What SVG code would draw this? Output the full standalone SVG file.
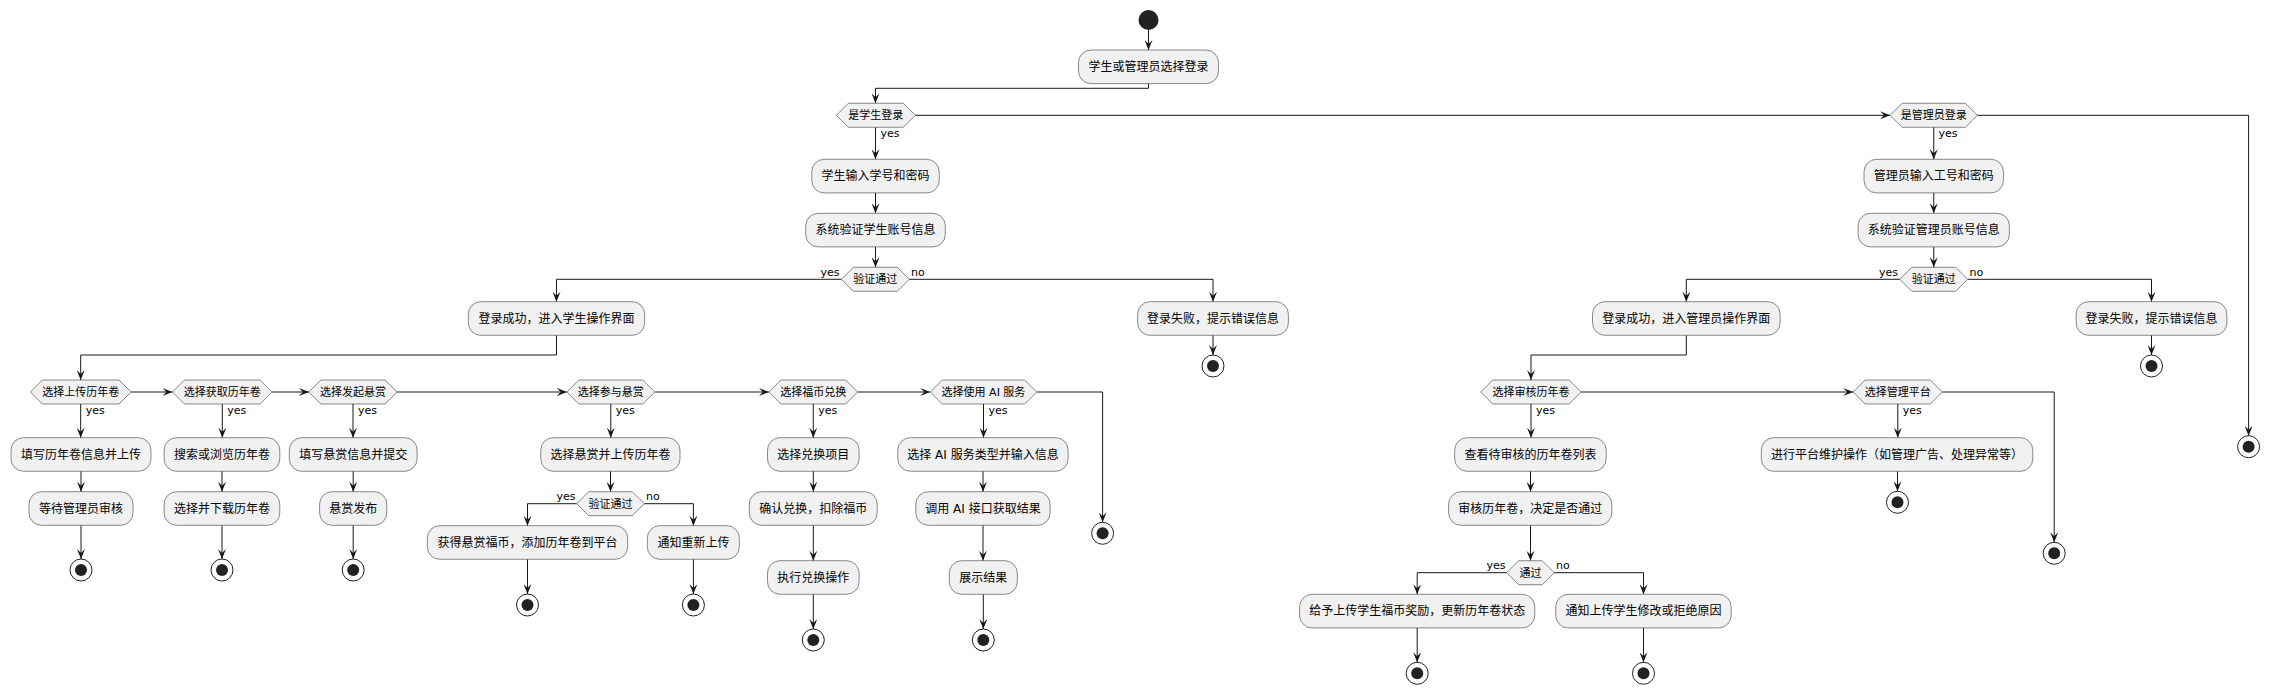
<svg xmlns="http://www.w3.org/2000/svg" width="2273" height="695" viewBox="0 0 2273 695">
<style>
.box{fill:#F1F1F1;stroke:#181818;stroke-width:0.5}
.dia{fill:#F1F1F1;stroke:#181818;stroke-width:0.5}
.bt{font-family:"DejaVu Sans","Noto Sans CJK SC",sans-serif;font-size:12px;fill:#000;text-anchor:middle}
.dt{font-family:"DejaVu Sans","Noto Sans CJK SC",sans-serif;font-size:11px;fill:#000;text-anchor:middle}
.lb{font-family:"DejaVu Sans","Noto Sans CJK SC",sans-serif;font-size:11px;fill:#000}
.le{text-anchor:end}
.ln{fill:none;stroke:#181818;stroke-width:1;marker-end:url(#ah)}
.so{fill:none;stroke:#222222;stroke-width:1}
.si{fill:#222222}
</style>
<defs>
<marker id="ah" viewBox="0 0 10 8" refX="10" refY="4" markerWidth="10" markerHeight="8" markerUnits="userSpaceOnUse" orient="auto">
<path d="M0,0 L10,4 L0,8 L4,4 Z" fill="#181818"/>
</marker>
</defs>
<rect width="2273" height="695" fill="#FFFFFF"/>
<g id="connectors">
<path class="ln" d="M1148.5,30 V50"/>
<path class="ln" d="M1148.5,83.6 V88.3 H875.5 V103.3"/>
<path class="ln" d="M875.5,127.3 V159.3"/>
<path class="ln" d="M875.5,192.9 V213.3"/>
<path class="ln" d="M875.5,246.9 V267.3"/>
<path class="ln" d="M841.4,279.3 H556.5 V301.7"/>
<path class="ln" d="M909.3,279.3 H1213 V301.7"/>
<path class="ln" d="M1213,335.3 V355"/>
<path class="ln" d="M915.3,115.3 H1890.1"/>
<path class="ln" d="M1933.75,127.3 V159.3"/>
<path class="ln" d="M1933.75,192.9 V213.3"/>
<path class="ln" d="M1933.75,246.9 V267.3"/>
<path class="ln" d="M1899.8,279.3 H1686.3 V301.7"/>
<path class="ln" d="M1967.7,279.3 H2151.5 V301.7"/>
<path class="ln" d="M2151.5,335.3 V355"/>
<path class="ln" d="M1977.4,115.3 H2248.6 V435.7"/>
<path class="ln" d="M556.5,335.3 V355 H80.7 V380"/>
<path class="ln" d="M131,392 H172.5"/>
<path class="ln" d="M272.1,392 H308.9"/>
<path class="ln" d="M397.1,392 H566.8"/>
<path class="ln" d="M654.8,392 H768.9"/>
<path class="ln" d="M857.6,392 H930.3"/>
<path class="ln" d="M1036.7,392 H1102.6 V522.3"/>
<path class="ln" d="M80.7,404 V437.7"/>
<path class="ln" d="M81,471.3 V491.7"/>
<path class="ln" d="M81,525.3 V559"/>
<path class="ln" d="M222.3,404 V437.7"/>
<path class="ln" d="M222,471.3 V491.7"/>
<path class="ln" d="M222,525.3 V559"/>
<path class="ln" d="M353,404 V437.7"/>
<path class="ln" d="M353.2,471.3 V491.7"/>
<path class="ln" d="M353.2,525.3 V559"/>
<path class="ln" d="M610.8,404 V437.7"/>
<path class="ln" d="M610.5,471.3 V491.7"/>
<path class="ln" d="M576.7,503.7 H527.5 V525.7"/>
<path class="ln" d="M527.5,559.3 V594"/>
<path class="ln" d="M644.3,503.7 H693.4 V525.7"/>
<path class="ln" d="M693.4,559.3 V594"/>
<path class="ln" d="M813.25,404 V437.7"/>
<path class="ln" d="M813.3,471.3 V491.7"/>
<path class="ln" d="M813.3,525.3 V560.7"/>
<path class="ln" d="M813.3,594.3 V629"/>
<path class="ln" d="M983.5,404 V437.7"/>
<path class="ln" d="M983,471.3 V491.7"/>
<path class="ln" d="M983,525.3 V560.7"/>
<path class="ln" d="M983.3,594.3 V629"/>
<path class="ln" d="M1686.3,335.3 V355 H1531 V380"/>
<path class="ln" d="M1581.2,392 H1853.2"/>
<path class="ln" d="M1942.4,392 H2054.2 V542.3"/>
<path class="ln" d="M1531,404 V437.7"/>
<path class="ln" d="M1530.5,471.3 V491.7"/>
<path class="ln" d="M1530.5,525.3 V560.7"/>
<path class="ln" d="M1506.7,572.7 H1417.2 V594.3"/>
<path class="ln" d="M1417.2,627.9 V662.3"/>
<path class="ln" d="M1554.2,572.7 H1643.5 V594.3"/>
<path class="ln" d="M1643.5,627.9 V662.3"/>
<path class="ln" d="M1897.8,404 V437.7"/>
<path class="ln" d="M1897.5,471.3 V491.3"/>
<text class="lb" x="880.5" y="137.3">yes</text>
<text class="lb" x="1938.5" y="137.3">yes</text>
<text class="lb le" x="839.5" y="275.5">yes</text>
<text class="lb" x="911" y="275.5">no</text>
<text class="lb le" x="1898" y="275.5">yes</text>
<text class="lb" x="1969.5" y="275.5">no</text>
<text class="lb" x="85.7" y="414">yes</text>
<text class="lb" x="227.3" y="414">yes</text>
<text class="lb" x="358" y="414">yes</text>
<text class="lb" x="615.8" y="414">yes</text>
<text class="lb" x="818.3" y="414">yes</text>
<text class="lb" x="988.5" y="414">yes</text>
<text class="lb le" x="575.5" y="500">yes</text>
<text class="lb" x="646" y="500">no</text>
<text class="lb" x="1536" y="414">yes</text>
<text class="lb" x="1902.8" y="414">yes</text>
<text class="lb le" x="1505.5" y="569">yes</text>
<text class="lb" x="1556" y="569">no</text>
</g>
<g id="start"><circle cx="1148.5" cy="20" r="10" fill="#222222"/></g>
<g id="n1"><rect class="box" x="1078.5" y="50" width="140" height="33.6" rx="12.5"/><text class="bt" x="1148.5" y="71.1">学生或管理员选择登录</text></g>
<g id="d1"><polygon class="dia" points="836.3,115.3 848.3,103.3 903.3,103.3 915.3,115.3 903.3,127.3 848.3,127.3"/><text class="dt" x="875.8" y="119.2">是学生登录</text></g>
<g id="n2"><rect class="box" x="811.75" y="159.3" width="127.5" height="33.6" rx="12.5"/><text class="bt" x="875.5" y="180.4">学生输入学号和密码</text></g>
<g id="n3"><rect class="box" x="805.7" y="213.3" width="139.6" height="33.6" rx="12.5"/><text class="bt" x="875.5" y="234.4">系统验证学生账号信息</text></g>
<g id="d2"><polygon class="dia" points="841.4,279.3 853.4,267.3 897.3,267.3 909.3,279.3 897.3,291.3 853.4,291.3"/><text class="dt" x="875.35" y="283.2">验证通过</text></g>
<g id="n4"><rect class="box" x="468.3" y="301.7" width="176.4" height="33.6" rx="12.5"/><text class="bt" x="556.5" y="322.8">登录成功，进入学生操作界面</text></g>
<g id="n5"><rect class="box" x="1137.6" y="301.7" width="150.8" height="33.6" rx="12.5"/><text class="bt" x="1213" y="322.8">登录失败，提示错误信息</text></g>
<g id="s1"><circle class="so" cx="1213" cy="366" r="11"/><circle class="si" cx="1213" cy="366" r="6"/></g>
<g id="d3"><polygon class="dia" points="1890.1,115.3 1902.1,103.3 1965.4,103.3 1977.4,115.3 1965.4,127.3 1902.1,127.3"/><text class="dt" x="1933.75" y="119.2">是管理员登录</text></g>
<g id="n6"><rect class="box" x="1864" y="159.3" width="139.5" height="33.6" rx="12.5"/><text class="bt" x="1933.75" y="180.4">管理员输入工号和密码</text></g>
<g id="n7"><rect class="box" x="1858.1" y="213.3" width="151.3" height="33.6" rx="12.5"/><text class="bt" x="1933.75" y="234.4">系统验证管理员账号信息</text></g>
<g id="d4"><polygon class="dia" points="1899.8,279.3 1911.8,267.3 1955.7,267.3 1967.7,279.3 1955.7,291.3 1911.8,291.3"/><text class="dt" x="1933.75" y="283.2">验证通过</text></g>
<g id="n8"><rect class="box" x="1592.5" y="301.7" width="187.6" height="33.6" rx="12.5"/><text class="bt" x="1686.3" y="322.8">登录成功，进入管理员操作界面</text></g>
<g id="n9"><rect class="box" x="2076.1" y="301.7" width="150.8" height="33.6" rx="12.5"/><text class="bt" x="2151.5" y="322.8">登录失败，提示错误信息</text></g>
<g id="s2"><circle class="so" cx="2151.5" cy="366" r="11"/><circle class="si" cx="2151.5" cy="366" r="6"/></g>
<g id="s3"><circle class="so" cx="2248.6" cy="446.7" r="11"/><circle class="si" cx="2248.6" cy="446.7" r="6"/></g>
<g id="d5"><polygon class="dia" points="30.4,392 42.4,380 119,380 131,392 119,404 42.4,404"/><text class="dt" x="80.7" y="395.9">选择上传历年卷</text></g>
<g id="d6"><polygon class="dia" points="172.5,392 184.5,380 260.1,380 272.1,392 260.1,404 184.5,404"/><text class="dt" x="222.3" y="395.9">选择获取历年卷</text></g>
<g id="d7"><polygon class="dia" points="308.9,392 320.9,380 385.1,380 397.1,392 385.1,404 320.9,404"/><text class="dt" x="353" y="395.9">选择发起悬赏</text></g>
<g id="d8"><polygon class="dia" points="566.8,392 578.8,380 642.8,380 654.8,392 642.8,404 578.8,404"/><text class="dt" x="610.8" y="395.9">选择参与悬赏</text></g>
<g id="d10"><polygon class="dia" points="768.9,392 780.9,380 845.6,380 857.6,392 845.6,404 780.9,404"/><text class="dt" x="813.25" y="395.9">选择福币兑换</text></g>
<g id="d11"><polygon class="dia" points="930.3,392 942.3,380 1024.7,380 1036.7,392 1024.7,404 942.3,404"/><text class="dt" x="983.5" y="395.9">选择使用 AI 服务</text></g>
<g id="s11"><circle class="so" cx="1102.6" cy="533.3" r="11"/><circle class="si" cx="1102.6" cy="533.3" r="6"/></g>
<g id="n10"><rect class="box" x="11" y="437.7" width="140" height="33.6" rx="12.5"/><text class="bt" x="81" y="458.8">填写历年卷信息并上传</text></g>
<g id="n11"><rect class="box" x="29" y="491.7" width="104" height="33.6" rx="12.5"/><text class="bt" x="81" y="512.8">等待管理员审核</text></g>
<g id="s4"><circle class="so" cx="81" cy="570" r="11"/><circle class="si" cx="81" cy="570" r="6"/></g>
<g id="n12"><rect class="box" x="164.1" y="437.7" width="115.7" height="33.6" rx="12.5"/><text class="bt" x="222" y="458.8">搜索或浏览历年卷</text></g>
<g id="n13"><rect class="box" x="164.1" y="491.7" width="115.7" height="33.6" rx="12.5"/><text class="bt" x="222" y="512.8">选择并下载历年卷</text></g>
<g id="s5"><circle class="so" cx="222" cy="570" r="11"/><circle class="si" cx="222" cy="570" r="6"/></g>
<g id="n14"><rect class="box" x="289.3" y="437.7" width="127.8" height="33.6" rx="12.5"/><text class="bt" x="353.2" y="458.8">填写悬赏信息并提交</text></g>
<g id="n15"><rect class="box" x="319.6" y="491.7" width="67.2" height="33.6" rx="12.5"/><text class="bt" x="353.2" y="512.8">悬赏发布</text></g>
<g id="s6"><circle class="so" cx="353.2" cy="570" r="11"/><circle class="si" cx="353.2" cy="570" r="6"/></g>
<g id="n16"><rect class="box" x="540.8" y="437.7" width="139.2" height="33.6" rx="12.5"/><text class="bt" x="610.4" y="458.8">选择悬赏并上传历年卷</text></g>
<g id="d9"><polygon class="dia" points="576.7,503.7 588.7,491.7 632.3,491.7 644.3,503.7 632.3,515.7 588.7,515.7"/><text class="dt" x="610.5" y="507.6">验证通过</text></g>
<g id="n17"><rect class="box" x="427.3" y="525.7" width="200.4" height="33.6" rx="12.5"/><text class="bt" x="527.5" y="546.8">获得悬赏福币，添加历年卷到平台</text></g>
<g id="s7"><circle class="so" cx="527.5" cy="605" r="11"/><circle class="si" cx="527.5" cy="605" r="6"/></g>
<g id="n18"><rect class="box" x="647.3" y="525.7" width="92.1" height="33.6" rx="12.5"/><text class="bt" x="693.4" y="546.8">通知重新上传</text></g>
<g id="s8"><circle class="so" cx="693.4" cy="605" r="11"/><circle class="si" cx="693.4" cy="605" r="6"/></g>
<g id="n19"><rect class="box" x="767.5" y="437.7" width="91.6" height="33.6" rx="12.5"/><text class="bt" x="813.3" y="458.8">选择兑换项目</text></g>
<g id="n20"><rect class="box" x="749.3" y="491.7" width="127.9" height="33.6" rx="12.5"/><text class="bt" x="813.3" y="512.8">确认兑换，扣除福币</text></g>
<g id="n21"><rect class="box" x="767.5" y="560.7" width="91.6" height="33.6" rx="12.5"/><text class="bt" x="813.3" y="581.8">执行兑换操作</text></g>
<g id="s9"><circle class="so" cx="813.3" cy="640" r="11"/><circle class="si" cx="813.3" cy="640" r="6"/></g>
<g id="n22"><rect class="box" x="897.8" y="437.7" width="170.3" height="33.6" rx="12.5"/><text class="bt" x="983" y="458.8">选择 AI 服务类型并输入信息</text></g>
<g id="n23"><rect class="box" x="915.8" y="491.7" width="134.3" height="33.6" rx="12.5"/><text class="bt" x="983" y="512.8">调用 AI 接口获取结果</text></g>
<g id="n24"><rect class="box" x="949.3" y="560.7" width="68" height="33.6" rx="12.5"/><text class="bt" x="983.3" y="581.8">展示结果</text></g>
<g id="s10"><circle class="so" cx="983.3" cy="640" r="11"/><circle class="si" cx="983.3" cy="640" r="6"/></g>
<g id="d12"><polygon class="dia" points="1480.7,392 1492.7,380 1569.2,380 1581.2,392 1569.2,404 1492.7,404"/><text class="dt" x="1530.95" y="395.9">选择审核历年卷</text></g>
<g id="d13"><polygon class="dia" points="1853.2,392 1865.2,380 1930.4,380 1942.4,392 1930.4,404 1865.2,404"/><text class="dt" x="1897.8" y="395.9">选择管理平台</text></g>
<g id="s15"><circle class="so" cx="2054.2" cy="553.3" r="11"/><circle class="si" cx="2054.2" cy="553.3" r="6"/></g>
<g id="n25"><rect class="box" x="1454.7" y="437.7" width="151.5" height="33.6" rx="12.5"/><text class="bt" x="1530.5" y="458.8">查看待审核的历年卷列表</text></g>
<g id="n26"><rect class="box" x="1448.6" y="491.7" width="163.2" height="33.6" rx="12.5"/><text class="bt" x="1530.2" y="512.8">审核历年卷，决定是否通过</text></g>
<g id="d14"><polygon class="dia" points="1506.7,572.7 1518.7,560.7 1542.2,560.7 1554.2,572.7 1542.2,584.7 1518.7,584.7"/><text class="dt" x="1530.45" y="576.6">通过</text></g>
<g id="n27"><rect class="box" x="1299.6" y="594.3" width="235.2" height="33.6" rx="12.5"/><text class="bt" x="1417.2" y="615.4">给予上传学生福币奖励，更新历年卷状态</text></g>
<g id="s12"><circle class="so" cx="1417.2" cy="673.3" r="11"/><circle class="si" cx="1417.2" cy="673.3" r="6"/></g>
<g id="n28"><rect class="box" x="1555.7" y="594.3" width="175.5" height="33.6" rx="12.5"/><text class="bt" x="1643.5" y="615.4">通知上传学生修改或拒绝原因</text></g>
<g id="s13"><circle class="so" cx="1643.5" cy="673.3" r="11"/><circle class="si" cx="1643.5" cy="673.3" r="6"/></g>
<g id="n29"><rect class="box" x="1761.3" y="437.7" width="271.5" height="33.6" rx="12.5"/><text class="bt" x="1897.05" y="458.8">进行平台维护操作（如管理广告、处理异常等）</text></g>
<g id="s14"><circle class="so" cx="1897.5" cy="502.3" r="11"/><circle class="si" cx="1897.5" cy="502.3" r="6"/></g>
</svg>
